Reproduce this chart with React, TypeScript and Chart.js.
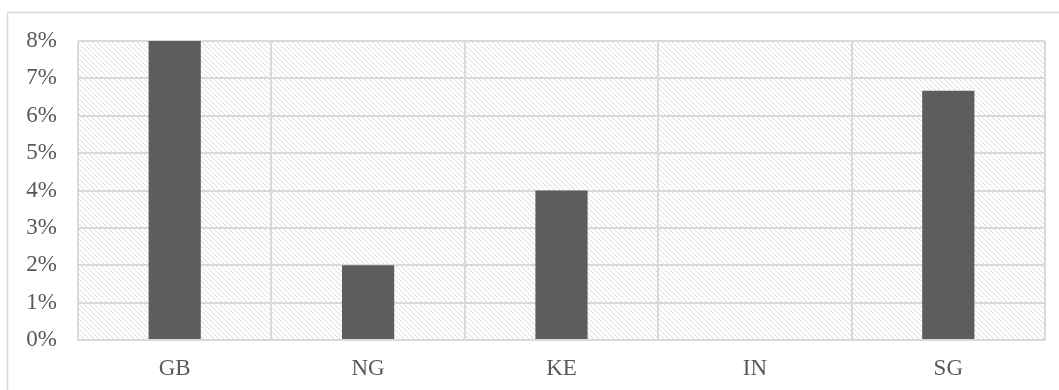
import React, { useEffect, useRef } from "react";
import { Chart, registerables } from "chart.js";

Chart.register(...registerables);

const categories = ["GB", "NG", "KE", "IN", "SG"];
const values = [0.08, 0.02, 0.04, 0, 0.0667];
const yTicks = [0, 0.01, 0.02, 0.03, 0.04, 0.05, 0.06, 0.07, 0.08];

function makePattern(ctx: CanvasRenderingContext2D) {
  const size = 5;
  const c = document.createElement("canvas");
  c.width = size;
  c.height = size;
  const g = c.getContext("2d")!;
  g.fillStyle = "#ffffff";
  g.fillRect(0, 0, size, size);
  g.fillStyle = "#dadada";
  for (let i = 0; i < size; i++) g.fillRect(i, i, 1, 1);
  return ctx.createPattern(c, "repeat");
}

const bgPlugin = {
  id: "bgPlugin",
  beforeDraw(chart: any) {
    const { ctx, chartArea } = chart;
    ctx.save();
    ctx.fillStyle = "#ffffff";
    ctx.fillRect(0, 0, chart.width, chart.height);
    ctx.strokeStyle = "#d9d9d9";
    ctx.lineWidth = 1.5;
    ctx.strokeRect(7.5, 12.5, chart.width + 20, chart.height + 20);
    const p = makePattern(ctx);
    if (p) {
      ctx.fillStyle = p;
      ctx.fillRect(chartArea.left, chartArea.top, chartArea.right - chartArea.left, chartArea.bottom - chartArea.top);
    }
    ctx.restore();
  },
};

export default function App() {
  const ref = useRef<HTMLCanvasElement>(null);
  useEffect(() => {
    const chart = new Chart(ref.current!, {
      type: "bar",
      data: {
        labels: categories,
        datasets: [
          {
            data: values,
            backgroundColor: "#5d5d5d",
            barPercentage: 0.27,
            categoryPercentage: 1,
          },
        ],
      },
      options: {
        animation: false,
        responsive: false,
        maintainAspectRatio: false,
        layout: { padding: { left: 0, top: 41, right: 14, bottom: 0 } },
        plugins: { legend: { display: false }, tooltip: { enabled: false } },
        scales: {
          x: {
            grid: { color: "#d9d9d9", lineWidth: 2, drawTicks: false, offset: true },
            border: { display: false },
            ticks: {
              color: "#595959",
              font: { family: "'Liberation Serif', serif", size: 23 },
              padding: 15,
            },
            afterFit(scale: any) {
              scale.height = 50;
            },
          },
          y: {
            min: 0,
            max: 0.08,
            afterBuildTicks(scale: any) {
              scale.ticks = yTicks.map((v) => ({ value: v }));
            },
            grid: { color: "#d9d9d9", lineWidth: 2, drawTicks: false },
            border: { display: false },
            ticks: {
              color: "#595959",
              font: { family: "'Liberation Serif', serif", size: 23 },
              padding: 21,
              callback: (v: any) => Math.round(Number(v) * 100) + "%",
            },
            afterFit(scale: any) {
              scale.width = 78;
            },
          },
        },
      },
      plugins: [bgPlugin],
    });
    return () => chart.destroy();
  }, []);
  return (
    <div style={{ position: "fixed", left: 0, top: 0, width: 1059, height: 390 }}>
      <canvas ref={ref} width={1059} height={390} style={{ display: "block" }} />
    </div>
  );
}
